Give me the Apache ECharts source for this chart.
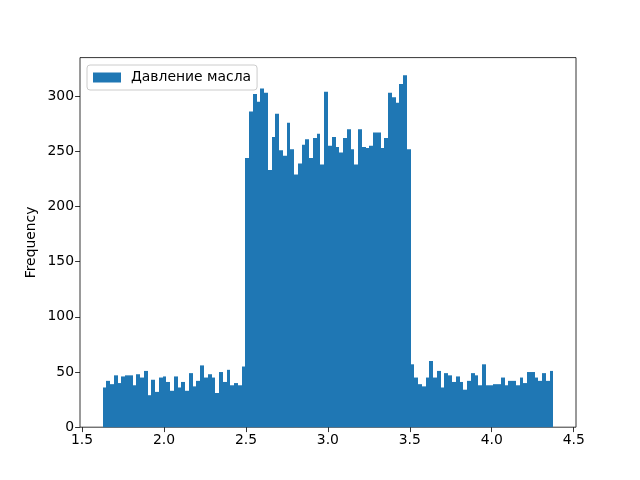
<!DOCTYPE html>
<html>
<head>
<meta charset="utf-8">
<script src="https://cdn.jsdelivr.net/npm/echarts@6/dist/echarts.min.js"></script>
<style>html,body{margin:0;padding:0;background:#fff;}#c{width:640px;height:480px;}</style>
</head>
<body>
<div id="c"></div>
<script>
// Histogram data (120 bins)
const binStart = 1.625;
const binWidth = 0.02293;
const counts = [
  36, 42, 39, 47, 40, 46, 47, 47, 38, 48, 45, 51, 29, 43, 32, 45, 46, 41, 33, 46,
  36, 41, 33, 49, 37, 42, 56, 45, 48, 45, 31, 50, 41, 52, 38, 40, 38, 55,
  244, 286, 302, 295, 307, 303, 233, 263, 284, 251, 246, 276, 252, 229, 239, 256,
  261, 244, 262, 266, 238, 304, 255, 263, 254, 249, 262, 270, 252, 238, 270, 254,
  253, 255, 267, 267, 253, 262, 303, 299, 294, 311, 319, 252,
  57, 45, 39, 37, 45, 60, 45, 51, 36, 49, 47, 41, 46, 41, 34, 42, 49, 47, 38, 57,
  38, 38, 39, 39, 45, 38, 42, 42, 38, 45, 40, 50, 50, 45, 42, 49, 42, 51
];
const xTicks = [1.5, 2.0, 2.5, 3.0, 3.5, 4.0, 4.5];
const yTicks = [0, 50, 100, 150, 200, 250, 300];
const seriesName = 'Давление масла';
const yName = 'Frequency';

const data = counts.map((c, i) => [binStart + i * binWidth, binStart + (i + 1) * binWidth, c]);
const dataMin = binStart, dataMax = binStart + counts.length * binWidth;
const span = dataMax - dataMin;
const xMin = dataMin - 0.05 * span, xMax = dataMax + 0.05 * span;
const yMax = Math.max(...counts) * 1.05;

const font = 'DejaVu Sans';
const chart = echarts.init(document.getElementById('c'), null, {renderer: 'canvas'});
chart.setOption({
  animation: false,
  backgroundColor: '#fff',
  grid: {left: 80, right: 64, top: 57.6, bottom: 52.8, show: true, borderColor: '#000', borderWidth: 0.8, backgroundColor: 'transparent'},
  legend: {
    left: 87, top: 65, orient: 'vertical',
    padding: [5.5, 6],
    itemWidth: 28, itemHeight: 10,
    backgroundColor: 'rgba(255,255,255,0.8)',
    borderColor: '#cccccc', borderWidth: 1, borderRadius: 3,
    textStyle: {fontFamily: font, fontSize: 13.9, color: '#000', padding: [0, 0, 0, 5]},
    data: [{name: seriesName, icon: 'rect', itemStyle: {color: '#1f77b4'}}]
  },
  xAxis: {
    type: 'value', min: xMin, max: xMax,
    splitLine: {show: false},
    axisLine: {show: false},
    axisTick: {show: true, length: 4.9, lineStyle: {color: '#000', width: 0.8}, customValues: xTicks},
    axisLabel: {fontFamily: font, fontSize: 13.9, color: '#000', margin: 6, customValues: xTicks,
      formatter: v => v.toFixed(1)}
  },
  yAxis: {
    type: 'value', min: 0, max: yMax,
    name: yName, nameLocation: 'middle', nameGap: 42, nameRotate: 90,
    nameMoveOverlap: false,
    nameTextStyle: {fontFamily: font, fontSize: 13.9, color: '#000'},
    splitLine: {show: false},
    axisLine: {show: false},
    axisTick: {show: true, length: 4.9, lineStyle: {color: '#000', width: 0.8}, customValues: yTicks},
    axisLabel: {fontFamily: font, fontSize: 13.9, color: '#000', margin: 6, customValues: yTicks}
  },
  series: [{
    name: seriesName,
    type: 'custom',
    itemStyle: {color: '#1f77b4'},
    encode: {x: [0, 1], y: 2},
    renderItem: (params, api) => {
      const p0 = api.coord([api.value(0), api.value(2)]);
      const p1 = api.coord([api.value(1), 0]);
      const x0 = Math.round(p0[0]), x1 = Math.round(p1[0]);
      return {
        type: 'rect',
        shape: {x: x0, y: p0[1], width: x1 - x0, height: p1[1] - p0[1]},
        style: {fill: '#1f77b4'}
      };
    },
    data: data
  }]
});
</script>
</body>
</html>
